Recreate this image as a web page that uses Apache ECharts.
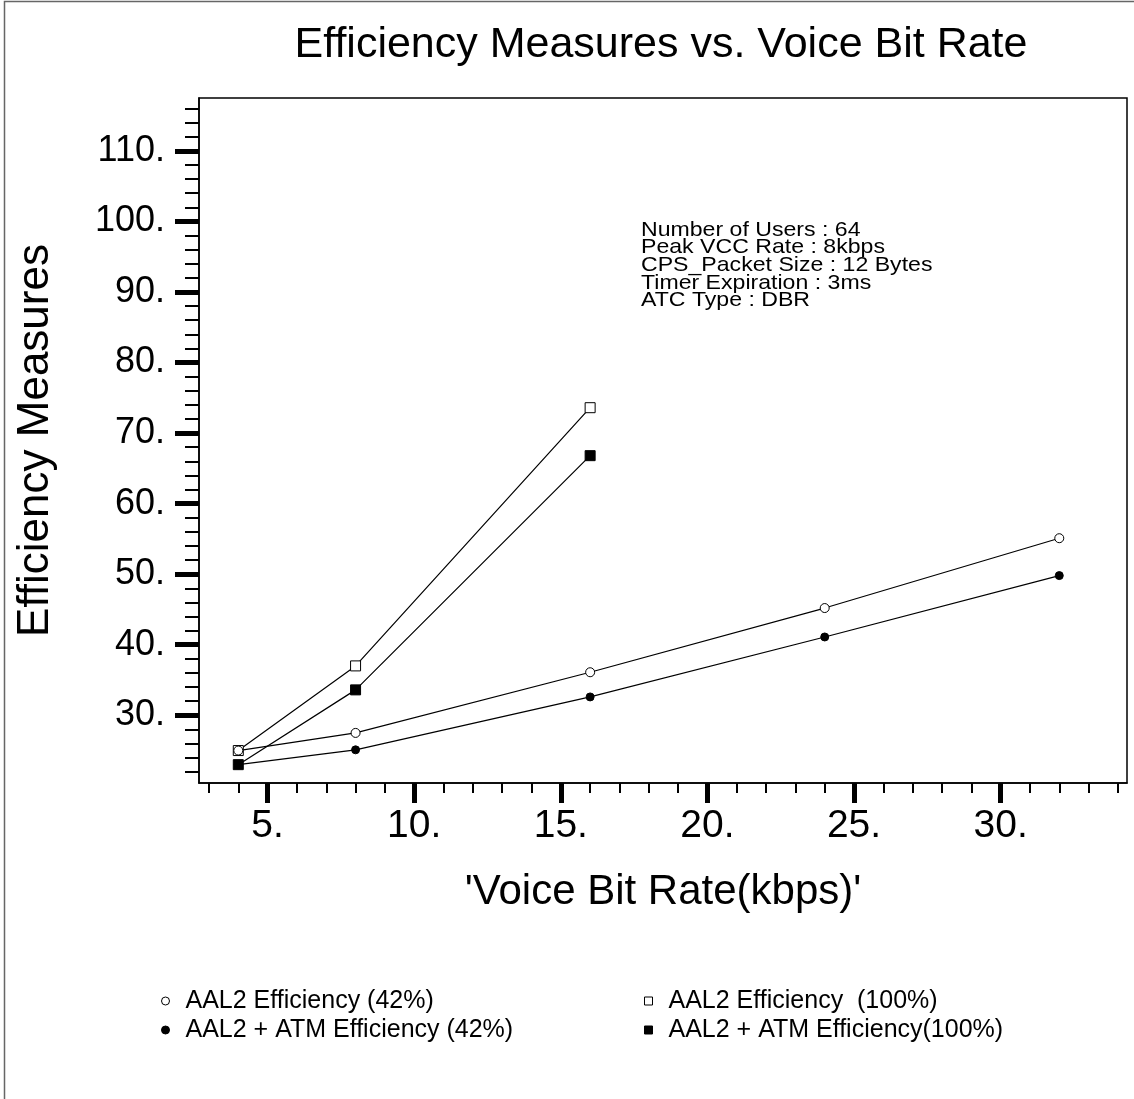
<!DOCTYPE html>
<html>
<head>
<meta charset="utf-8">
<title>Efficiency Measures vs. Voice Bit Rate</title>
<script src="https://cdn.jsdelivr.net/npm/echarts@6/dist/echarts.min.js"></script>
<style>
  html, body { margin: 0; padding: 0; background: #fff; }
  #chart { width: 1134px; height: 1099px; }
</style>
</head>
<body>
<div id="chart"></div>
<script>
// voice bit rate (kbps) on the x axis
const bitRates = [4, 8, 16, 24, 32];

// efficiency values
const aal2Eff42 = [25.0, 27.5, 36.1, 45.2, 55.1];
const aal2AtmEff42 = [23.0, 25.1, 32.6, 41.1, 49.8];
const aal2Eff100 = [25.0, 37.0, 73.6];
const aal2AtmEff100 = [23.0, 33.6, 66.8];

// tick labels / tick positions
const xMajorTicks = [5, 10, 15, 20, 25, 30];
const xMinorTicks = [3, 4, 6, 7, 8, 9, 11, 12, 13, 14, 16, 17, 18, 19, 21, 22, 23, 24, 26, 27, 28, 29, 31, 32, 33, 34];
const yMajorTicks = [30, 40, 50, 60, 70, 80, 90, 100, 110];
const yMinorTicks = [22, 24, 26, 28, 32, 34, 36, 38, 42, 44, 46, 48, 52, 54, 56, 58, 62, 64, 66, 68,
  72, 74, 76, 78, 82, 84, 86, 88, 92, 94, 96, 98, 102, 104, 106, 108, 112, 114, 116];

const seriesNames = [
  'AAL2 Efficiency (42%)',
  'AAL2 + ATM Efficiency (42%)',
  'AAL2 Efficiency  (100%)',
  'AAL2 + ATM Efficiency(100%)',
];

const infoLines = [
  'Number of Users : 64',
  'Peak VCC Rate : 8kbps',
  'CPS_Packet Size : 12 Bytes',
  'Timer Expiration : 3ms',
  'ATC Type : DBR',
];

const FONT = '"Liberation Sans", Arial, Helvetica, sans-serif';
const X_MIN = 2.66, X_MAX = 34.31;
const Y_MIN = 20.4, Y_MAX = 117.5;

const pairs = (ys) => ys.map((y, i) => [bitRates[i], y]);

// open markers: white fill + black border, filled markers: all black
const lineSeries = (name, ys, symbol, size, filled) => ({
  name: name,
  type: 'line',
  data: pairs(ys),
  symbol: symbol,
  symbolSize: size,
  showAllSymbol: true,
  lineStyle: { color: '#000', width: 1.2 },
  itemStyle: {
    color: filled ? '#000' : '#fff',
    borderColor: '#000',
    borderWidth: 1,
  },
  emphasis: { disabled: true },
});

const legendStyle = {
  orient: 'vertical',
  top: 983,
  itemWidth: 8,
  itemHeight: 8,
  itemGap: 3,
  selectedMode: false,
  textStyle: { fontFamily: FONT, fontSize: 25, lineHeight: 26, color: '#000', padding: [0, 0, 0, 11] },
};

const chart = echarts.init(document.getElementById('chart'));

const option = {
  animation: false,
  backgroundColor: '#fff',
  textStyle: { fontFamily: FONT, color: '#000' },
  title: {
    text: 'Efficiency Measures vs. Voice Bit Rate',
    left: 656,
    top: 19,
    textAlign: 'center',
    textStyle: { fontFamily: FONT, fontSize: 43, fontWeight: 'normal', color: '#000' },
  },
  grid: {
    left: 199,
    right: 7,
    top: 98,
    bottom: 316,
    show: true,
    borderColor: '#000',
    borderWidth: 1.5,
    backgroundColor: 'transparent',
  },
  legend: [
    Object.assign({}, legendStyle, {
      left: 156,
      data: [
        { name: seriesNames[0], icon: 'circle', itemStyle: { color: '#fff', borderColor: '#000', borderWidth: 1 } },
        { name: seriesNames[1], icon: 'circle', itemStyle: { color: '#000', borderColor: '#000', borderWidth: 1 } },
      ],
    }),
    Object.assign({}, legendStyle, {
      left: 639,
      data: [
        { name: seriesNames[2], icon: 'rect', itemStyle: { color: '#fff', borderColor: '#000', borderWidth: 1 } },
        { name: seriesNames[3], icon: 'rect', itemStyle: { color: '#000', borderColor: '#000', borderWidth: 1 } },
      ],
    }),
  ],
  xAxis: [
    {
      type: 'value',
      position: 'bottom',
      min: X_MIN,
      max: X_MAX,
      name: "'Voice Bit Rate(kbps)'",
      nameLocation: 'middle',
      nameGap: 88,
      nameTextStyle: { fontFamily: FONT, fontSize: 42, color: '#000' },
      axisLine: { show: true, onZero: false, lineStyle: { color: '#000', width: 1.5 } },
      axisTick: { show: true, inside: false, length: 20, customValues: xMajorTicks, lineStyle: { color: '#000', width: 5 } },
      axisLabel: {
        show: true,
        customValues: xMajorTicks,
        margin: 24,
        fontFamily: FONT,
        fontSize: 39,
        color: '#000',
        formatter: (v) => v + '.',
      },
      splitLine: { show: false },
    },
    {
      type: 'value',
      position: 'bottom',
      min: X_MIN,
      max: X_MAX,
      axisLine: { show: false, onZero: false },
      axisTick: { show: true, inside: false, length: 10, customValues: xMinorTicks, lineStyle: { color: '#000', width: 2 } },
      axisLabel: { show: false },
      splitLine: { show: false },
    },
  ],
  yAxis: [
    {
      type: 'value',
      position: 'left',
      min: Y_MIN,
      max: Y_MAX,
      name: 'Efficiency Measures',
      nameLocation: 'middle',
      nameGap: 141,
      nameTextStyle: { fontFamily: FONT, fontSize: 44, color: '#000' },
      axisLine: { show: true, onZero: false, lineStyle: { color: '#000', width: 1.5 } },
      axisTick: { show: true, inside: false, length: 24, customValues: yMajorTicks, lineStyle: { color: '#000', width: 5 } },
      axisLabel: {
        show: true,
        customValues: yMajorTicks,
        margin: 34,
        fontFamily: FONT,
        fontSize: 36,
        color: '#000',
        formatter: (v) => v + '.',
      },
      splitLine: { show: false },
    },
    {
      type: 'value',
      position: 'left',
      min: Y_MIN,
      max: Y_MAX,
      axisLine: { show: false, onZero: false },
      axisTick: { show: true, inside: false, length: 14, customValues: yMinorTicks, lineStyle: { color: '#000', width: 2 } },
      axisLabel: { show: false },
      splitLine: { show: false },
    },
  ],
  graphic: [
    {
      type: 'rect',
      silent: true,
      shape: { x: 4.5, y: 1.5, width: 1200, height: 1200 },
      style: { fill: 'none', stroke: '#666', lineWidth: 1.5 },
    },
    {
      // run parameters, drawn a little wide like the original's font
      type: 'text',
      silent: true,
      x: 641,
      y: 221,
      scaleX: 1.1,
      style: {
        text: infoLines.join('\n'),
        fontFamily: FONT,
        fontSize: 21,
        lineHeight: 17.7,
        fill: '#000',
      },
    },
  ],
  series: [
    lineSeries(seriesNames[2], aal2Eff100, 'rect', 10, false),
    lineSeries(seriesNames[3], aal2AtmEff100, 'rect', 10, true),
    lineSeries(seriesNames[0], aal2Eff42, 'circle', 9, false),
    lineSeries(seriesNames[1], aal2AtmEff42, 'circle', 8, true),
  ],
};

chart.setOption(option);
</script>
</body>
</html>
